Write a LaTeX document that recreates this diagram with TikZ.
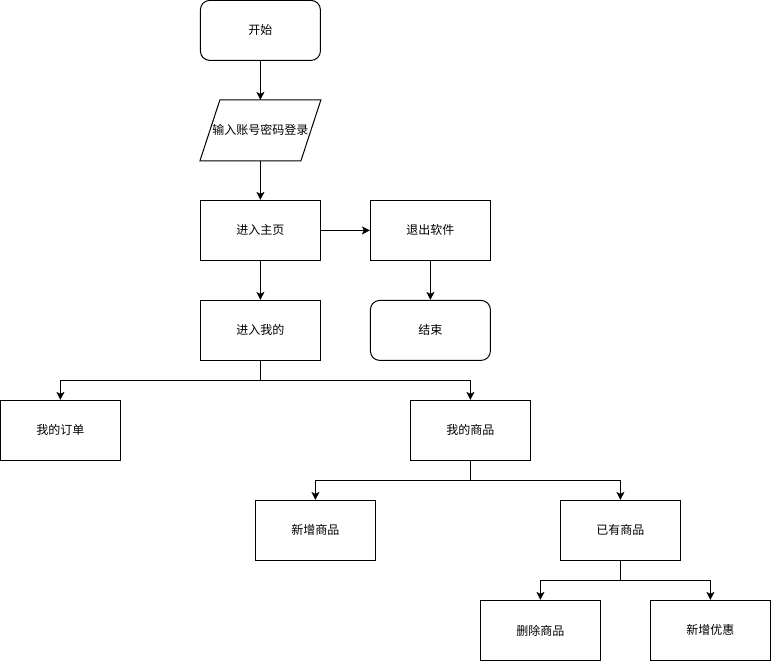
\documentclass[tikz,border=0pt]{standalone}
\usepackage{fontspec}
\newfontfamily\cjk{Noto Sans CJK SC}
\usetikzlibrary{arrows.meta}
\begin{document}
\begin{tikzpicture}[x=0.75pt, y=-0.75pt, line width=0.75pt,
        box/.style={draw, minimum width=90pt, minimum height=45pt, inner sep=0pt, font=\cjk\fontsize{9pt}{11pt}\selectfont},
        rbox/.style={box, rounded corners=7pt},
        flow/.style={-{Stealth[length=6pt, width=6pt, inset=1.5pt]}}]
                \useasboundingbox (-0.4,-0.4) rectangle (771.6,661.6);
                \node[rbox] (start) at (260,30) {开始};
                \node[box, draw=none] (login) at (260,130) {输入账号密码登录};
                \draw ([xshift=15pt]login.north west) -- (login.north east) -- ([xshift=-15pt]login.south east) -- (login.south west) -- cycle;
                \node[box] (home) at (260,230) {进入主页};
                \node[box] (quit) at (430,230) {退出软件};
                \node[rbox] (end) at (430,330) {结束};
                \node[box] (mine) at (260,330) {进入我的};
                \node[box] (orders) at (60,430) {我的订单};
                \node[box] (goods) at (470,430) {我的商品};
                \node[box] (newgoods) at (315,530) {新增商品};
                \node[box] (oldgoods) at (620,530) {已有商品};
                \node[box] (delgoods) at (540,630) {删除商品};
                \node[box] (discount) at (710,630) {新增优惠};
                \draw[flow] (start) -- (login);
                \draw[flow] (login) -- (home);
                \draw[flow] (home) -- (quit);
                \draw[flow] (quit) -- (end);
                \draw[flow] (home) -- (mine);
                \draw[flow] (mine.south) -- ++(0,20) -| (orders.north);
                \draw[flow] (mine.south) -- ++(0,20) -| (goods.north);
                \draw[flow] (goods.south) -- ++(0,20) -| (newgoods.north);
                \draw[flow] (goods.south) -- ++(0,20) -| (oldgoods.north);
                \draw[flow] (oldgoods.south) -- ++(0,20) -| (delgoods.north);
                \draw[flow] (oldgoods.south) -- ++(0,20) -| (discount.north);
\end{tikzpicture}
\end{document}
